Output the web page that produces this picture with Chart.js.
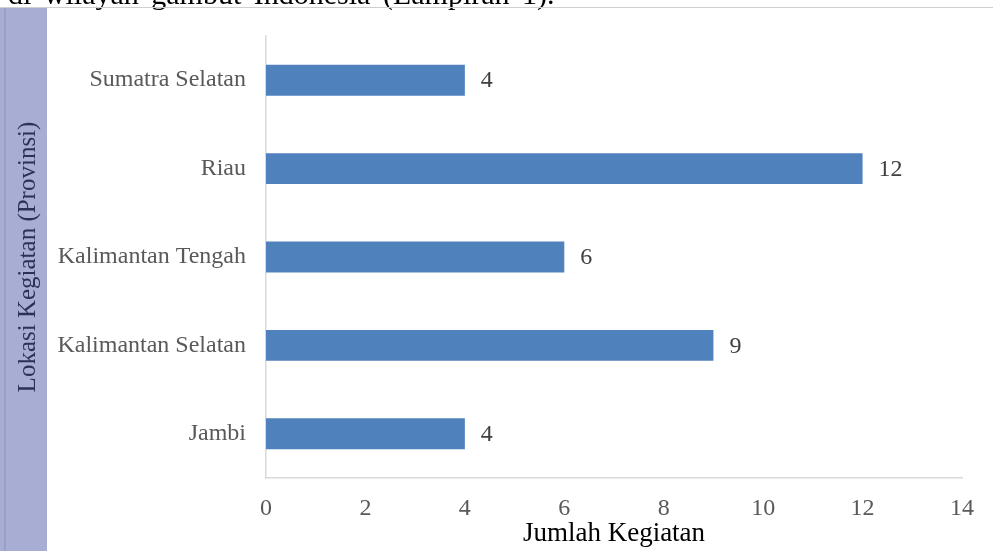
<!DOCTYPE html>
<html>
<head>
<meta charset="utf-8">
<script src="https://cdn.jsdelivr.net/npm/chart.js@4.4.1/dist/chart.umd.min.js"></script>
<style>
  html, body { margin: 0; padding: 0; background: #fff; }
  canvas { display: block; }
</style>
</head>
<body>
<canvas id="kegiatanChart" width="993" height="551"></canvas>
<script>
// data
const provinces = ['Sumatra Selatan', 'Riau', 'Kalimantan Tengah', 'Kalimantan Selatan', 'Jambi'];
const counts = [4, 12, 6, 9, 4];
const xTicks = [0, 2, 4, 6, 8, 10, 12, 14];

const serif = '"Liberation Serif", "Times New Roman", serif';

// page background, cut-off text line on top and the side band
var pageBackground = {
  id: 'pageBackground',
  beforeDraw: function(chart) {
    const ctx = chart.ctx;
    ctx.save();
    ctx.fillStyle = 'white';
    ctx.fillRect(0, 0, chart.width, chart.height);
    // text of the document above the figure (justified line, wide spaces)
    ctx.font = '30px ' + serif;
    if ('wordSpacing' in ctx) ctx.wordSpacing = '5px';
    ctx.fillStyle = 'black';
    ctx.textAlign = 'left';
    ctx.textBaseline = 'alphabetic';
    ctx.fillText('di wilayah gambut Indonesia (Lampiran 1).', 8, 4);
    if ('wordSpacing' in ctx) ctx.wordSpacing = '0px';
    // side band
    ctx.fillStyle = '#A8ADD3';
    ctx.fillRect(0, 8, 47, chart.height - 8);
    ctx.fillStyle = '#9A9FC8';
    ctx.fillRect(4, 8, 2, chart.height - 8);
    // thin line under text
    ctx.strokeStyle = '#CFCFCF';
    ctx.lineWidth = 1;
    ctx.beginPath();
    ctx.moveTo(0, 7.5);
    ctx.lineTo(chart.width, 7.5);
    ctx.stroke();
    ctx.restore();
  }
};

// value labels at the end of each bar
var barValues = {
  id: 'barValues',
  afterDatasetsDraw: function(chart) {
    const ctx = chart.ctx;
    const meta = chart.getDatasetMeta(0);
    ctx.save();
    ctx.font = '24px ' + serif;
    ctx.fillStyle = '#404040';
    ctx.textAlign = 'left';
    ctx.textBaseline = 'middle';
    meta.data.forEach((bar, i) => {
      ctx.fillText(String(counts[i]), bar.x + 16, bar.y + 1);
    });
    ctx.restore();
  }
};

new Chart(document.getElementById('kegiatanChart').getContext('2d'), {
  type: 'bar',
  data: {
    labels: provinces,
    datasets: [{
      data: counts,
      backgroundColor: '#4F81BD',
      borderWidth: 0,
      barPercentage: 0.35,
      categoryPercentage: 1.0
    }]
  },
  plugins: [pageBackground, barValues],
  options: {
    responsive: false,
    animation: false,
    events: [],
    indexAxis: 'y',
    layout: { padding: { top: 36, right: 31, bottom: 0, left: 0 } },
    plugins: {
      legend: { display: false },
      tooltip: { enabled: false }
    },
    scales: {
      x: {
        min: 0,
        max: 14,
        afterBuildTicks: function(scale) {
          scale.ticks = xTicks.map(v => ({ value: v }));
        },
        afterFit: function(scale) { scale.height = 551 - 478; },
        grid: { display: false, drawTicks: false },
        border: { display: true, color: '#D9D9D9', width: 1.5 },
        ticks: { color: '#595959', font: { family: serif, size: 24 }, padding: 16 },
        title: {
          display: true,
          text: 'Jumlah Kegiatan',
          color: 'black',
          font: { family: serif, size: 27 },
          padding: { top: 0, bottom: 1 }
        }
      },
      y: {
        afterFit: function(scale) { scale.width = 266; },
        grid: { display: false, drawTicks: false },
        border: { display: true, color: '#D9D9D9', width: 1.5 },
        ticks: { color: '#595959', font: { family: serif, size: 24 }, padding: 20 },
        title: {
          display: true,
          text: 'Lokasi Kegiatan (Provinsi)',
          color: '#2B3157',
          font: { family: serif, size: 25 },
          padding: { top: 13, bottom: 0 }
        }
      }
    }
  }
});
</script>
</body>
</html>
